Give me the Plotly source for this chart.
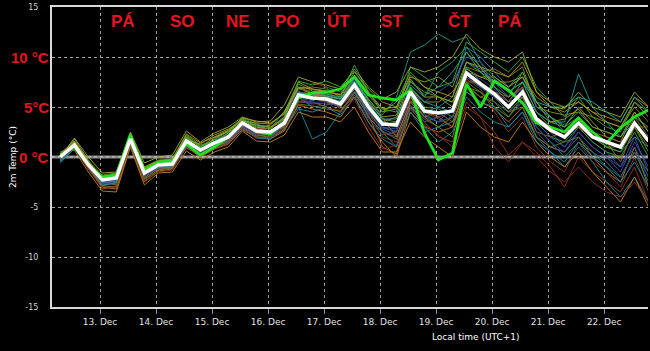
import plotly.graph_objects as go
import pandas as pd

# ---------------- data ----------------
times = [t.strftime("%Y-%m-%d %H:%M") for t in pd.date_range("2024-12-12 07:00", periods=43, freq="6h")]

mean_temp = [0.0, 1.2, -0.8, -2.3, -2.1, 1.8, -1.6, -0.8, -0.7, 1.6, 0.7, 1.4, 2.0, 3.4, 2.6, 2.5, 3.4,
             6.2, 5.9, 5.8, 5.3, 7.2, 5.0, 3.3, 3.2, 6.5, 4.6, 4.4, 4.6, 8.4, 7.3, 6.3, 5.0, 6.5, 3.8,
             2.7, 2.0, 3.4, 2.0, 1.5, 1.0, 3.4, 1.6]

control_temp = [0.2, 1.0, -0.8, -2.0, -1.8, 2.2, -1.3, -0.5, -0.4, 1.3, 0.2, 1.0, 2.0, 3.4, 2.5, 2.3, 3.5,
                5.9, 6.4, 6.5, 6.8, 8.0, 6.2, 5.9, 5.7, 6.7, 2.4, -0.3, 0.4, 7.3, 5.0, 7.6, 6.7, 5.4, 3.4,
                3.0, 2.5, 3.9, 2.5, 1.4, 2.9, 4.0, 4.7]

member_a = [-0.3, 1.3, -0.5, -2.0, -2.2, 1.6, -1.4, -0.6, -0.3, 2.0, 1.0, 1.8, 2.6, 3.8, 3.0, 2.8, 4.6, 7.0, 6.4, 6.0, 5.6, 7.8, 5.8, 4.2, 6.0, 10.5, 11.2, 12.3, 11.5, 12.0, 9.5, 8.0, 7.0, 8.5, 5.5, 4.0, 3.2, 4.5, 3.0, 2.5, 2.0, 4.0, 3.0]
member_b = [0.2, 0.9, -1.2, -3.0, -3.2, 1.2, -2.5, -1.4, -1.2, 1.0, 0.0, 0.8, 1.3, 2.8, 2.0, 1.8, 2.6, 5.2, 4.8, 4.5, 4.0, 6.0, 3.5, 1.5, 0.0, 4.5, 3.0, 2.5, 3.0, 6.5, 5.5, 4.8, 3.5, 5.0, 2.0, 1.0, 0.5, 2.0, 0.0, -1.5, -2.5, 1.0, -3.0]
member_c = [-0.5, 1.0, -0.9, -2.6, -2.4, 1.9, -1.8, -1.0, -0.9, 1.4, 0.5, 1.2, 1.8, 3.2, 2.4, 2.2, 3.0, 6.0, 5.6, 6.2, 5.8, 7.0, 4.0, 2.5, 2.0, 5.5, 4.0, 3.5, 5.0, 9.5, 8.8, 7.5, 6.0, 6.8, 4.0, 2.5, 1.0, 3.0, 1.5, 0.5, -1.0, 2.0, -1.5]
member_d = [0.0, 1.6, -0.4, -1.8, -1.6, 2.0, -1.0, -0.3, -0.2, 2.2, 1.2, 1.6, 2.4, 3.6, 3.2, 3.0, 4.0, 6.8, 7.0, 6.8, 6.0, 8.0, 6.2, 4.5, 4.8, 7.5, 6.5, 6.0, 5.5, 9.0, 8.5, 8.8, 8.0, 9.0, 5.0, 4.5, 4.2, 4.5, 4.0, 3.5, 3.0, 5.0, 3.5]
member_e = [0.3, 1.1, -1.0, -2.8, -2.6, 1.5, -2.0, -1.2, -1.0, 1.2, 0.3, 1.0, 1.6, 3.0, 2.2, 2.0, 3.2, 5.8, 7.4, 7.0, 5.0, 6.5, 4.5, 2.0, 1.5, 5.0, 3.5, 2.0, 1.5, 5.5, 4.0, 2.5, 0.2, 1.5, 0.5, -1.0, -3.0, 0.0, -1.5, -2.5, -3.5, -1.0, -4.5]
member_f = [-0.2, 1.4, -0.6, -2.2, -2.0, 2.3, -1.5, -0.7, -0.5, 1.8, 0.8, 1.5, 2.2, 3.5, 2.8, 2.6, 3.6, 6.5, 6.2, 5.5, 5.0, 7.5, 5.5, 3.8, 3.5, 7.0, 5.0, 4.8, 4.0, 8.0, 7.0, 6.0, 4.5, 6.0, 3.5, 2.0, 1.5, 3.0, 1.5, 0.5, 0.0, 2.5, 0.0]
member_g = [0.1, 1.8, -0.3, -2.5, -2.8, 1.4, -1.9, -0.9, -0.8, 1.5, 0.6, 1.9, 2.6, 3.7, 2.9, 3.2, 4.5, 7.5, 6.8, 6.5, 6.2, 8.5, 6.8, 5.5, 5.0, 8.0, 7.5, 8.0, 7.0, 10.5, 9.0, 7.0, 5.5, 7.5, 4.5, 3.5, 3.0, 5.0, 3.5, 2.0, 1.5, 4.5, 2.5]
member_h = [-0.4, 0.8, -1.1, -2.9, -2.5, 1.7, -1.7, -1.1, -1.1, 1.1, 0.2, 1.1, 1.5, 3.0, 2.1, 2.4, 3.8, 6.0, 5.0, 5.2, 5.6, 7.0, 4.8, 3.0, 2.5, 6.0, 4.5, 5.0, 6.0, 11.0, 10.0, 8.5, 7.0, 8.0, 5.0, 4.0, 2.5, 3.5, 2.5, 1.0, 0.5, 2.0, 1.0]
member_i = [0.4, 1.5, -0.7, -2.4, -1.9, 1.8, -1.2, -0.5, -0.6, 1.9, 1.0, 2.0, 2.5, 3.3, 3.2, 3.0, 3.8, 6.3, 6.0, 6.0, 5.5, 6.8, 5.2, 3.5, 4.0, 6.8, 5.5, 5.5, 6.5, 8.5, 8.0, 7.5, 7.5, 8.0, 6.0, 5.0, 4.5, 5.5, 4.5, 4.0, 3.5, 6.0, 5.0]
member_j = [-0.1, 1.2, -0.8, -2.1, -2.3, 2.1, -1.6, -0.8, -0.7, 1.7, 0.9, 1.3, 2.0, 3.5, 2.5, 2.3, 3.3, 6.3, 6.5, 7.0, 6.5, 7.3, 5.5, 3.3, 3.0, 6.2, 4.2, 3.5, 4.0, 7.5, 6.5, 5.5, 4.0, 5.5, 3.0, 1.5, 0.0, 1.5, 0.5, -1.0, -2.0, 0.5, -2.5]
member_k = [0.2, 1.0, -1.0, -3.2, -2.9, 1.3, -2.2, -1.3, -0.9, 1.3, 0.4, 1.4, 1.9, 3.1, 2.6, 2.5, 3.0, 5.5, 5.5, 5.0, 4.5, 6.2, 4.2, 1.0, 0.3, 5.5, 4.0, 4.5, 3.5, 7.0, 6.0, 6.5, 5.5, 6.0, 2.5, 2.0, 2.5, 3.0, 2.0, 1.5, -0.5, 3.0, 1.0]
member_l = [-0.6, 0.9, -0.9, -2.2, -2.0, 1.6, -1.5, -0.6, -0.4, 1.6, 0.6, 1.3, 2.3, 3.3, 2.4, 1.8, 3.5, 5.0, 1.8, 2.5, 4.5, 6.5, 4.0, 2.5, 1.0, 5.0, 3.0, 1.5, 2.5, 6.0, 4.5, 3.5, 3.0, 4.5, 2.0, 0.5, -1.0, 1.0, -0.5, -2.5, -4.0, -2.0, -4.5]
member_m = [0.0, 1.3, -0.7, -2.7, -2.2, 1.9, -1.4, -0.7, -0.6, 1.5, 0.7, 1.7, 2.1, 3.2, 2.7, 2.7, 4.2, 6.6, 6.0, 5.5, 5.2, 7.8, 5.0, 3.0, 2.8, 6.5, 5.5, 6.5, 7.5, 10.0, 9.5, 7.0, 5.5, 7.0, 3.5, 2.0, 1.0, 2.5, 1.0, 0.0, -1.0, 1.0, -2.0]
member_n = [0.1, 1.1, -0.8, -2.0, -1.8, 2.0, -1.1, -0.4, -0.3, 2.1, 1.1, 1.5, 2.4, 3.9, 3.3, 2.9, 3.9, 7.3, 6.6, 6.3, 6.0, 9.2, 6.5, 4.8, 4.5, 9.0, 8.0, 7.0, 7.5, 11.5, 10.5, 9.5, 8.5, 10.0, 7.0, 5.5, 4.0, 6.0, 4.0, 3.0, 2.5, 5.5, 4.5]
member_o = [-0.3, 1.5, -0.5, -2.3, -2.4, 1.5, -1.7, -1.0, -1.0, 1.4, 0.4, 1.2, 1.7, 3.3, 2.6, 2.6, 3.1, 6.0, 5.8, 5.6, 5.0, 6.8, 4.6, 3.2, 3.5, 6.0, 4.0, 3.0, 2.0, 7.0, 6.5, 5.0, 4.0, 6.0, 3.5, 2.5, 2.0, 3.5, 2.0, 1.0, 1.0, 4.0, 2.0]
member_p = [0.2, 1.2, -0.6, -2.5, -2.1, 2.2, -1.3, -0.6, -0.8, 1.8, 0.8, 1.6, 2.2, 3.5, 2.7, 2.5, 3.6, 6.3, 5.7, 5.9, 5.5, 7.6, 5.2, 3.5, 3.2, 7.0, 5.5, 5.0, 4.5, 9.0, 7.5, 6.5, 5.0, 6.5, 4.5, 3.5, 3.5, 8.3, 5.0, 3.5, 2.0, 3.5, 1.5]
member_q = [0.0, 1.0, -1.1, -2.6, -2.7, 1.6, -1.8, -1.2, -0.8, 1.3, 0.5, 1.0, 1.8, 3.1, 2.3, 2.2, 3.3, 6.2, 6.8, 6.0, 4.8, 6.0, 3.8, 2.2, 2.5, 5.8, 4.5, 3.8, 3.0, 7.8, 6.8, 4.5, 2.5, 4.0, 1.0, -0.5, -1.5, 1.5, -0.5, -1.5, -3.0, 0.0, -3.5]
member_r = [0.3, 1.4, -0.6, -2.2, -2.0, 1.7, -1.5, -0.7, -0.5, 1.7, 1.3, 2.2, 2.8, 3.6, 3.4, 3.3, 4.4, 6.9, 6.3, 6.1, 5.8, 7.4, 5.8, 4.0, 4.2, 7.8, 6.0, 6.0, 5.5, 8.8, 8.0, 8.0, 7.0, 8.0, 5.5, 3.5, 3.8, 4.8, 3.0, 2.5, 2.0, 4.5, 2.5]
member_s = [-0.2, 1.3, -0.7, -2.4, -2.3, 1.9, -1.6, -0.9, -0.6, 1.7, 0.7, 1.4, 2.0, 3.4, 2.5, 2.4, 3.4, 6.4, 6.1, 6.3, 5.9, 7.5, 5.3, 3.6, 3.0, 7.2, 6.0, 8.5, 9.5, 11.0, 9.0, 7.8, 6.5, 7.5, 4.5, 3.0, 2.5, 4.0, 2.5, 1.5, 1.0, 3.5, 1.5]
member_t = [0.1, 1.1, -0.9, -2.6, -2.5, 1.5, -1.9, -1.0, -0.8, 1.2, 0.3, 1.1, 1.6, 3.1, 2.2, 2.1, 2.9, 5.6, 5.3, 5.4, 5.1, 6.6, 4.4, 2.8, 2.2, 5.2, 3.5, 4.0, 4.5, 8.0, 7.0, 6.0, 4.5, 5.5, 2.5, 1.0, 0.5, 2.5, 1.0, 0.0, -1.5, 1.5, -1.0]
member_u = [0.5, 0.7, -1.5, -3.4, -3.5, 1.0, -2.8, -1.6, -1.5, 0.6, -0.3, 0.5, 1.0, 2.6, 1.6, 1.5, 2.2, 4.5, 4.0, 4.0, 3.5, 5.0, 2.5, 0.5, 0.5, 3.5, 2.0, 1.0, 0.0, 4.5, 3.0, 2.0, 1.5, 3.5, 1.5, 0.0, -1.0, 0.5, -1.5, -3.0, -4.5, -2.0, -5.0]
member_v = [-0.1, 1.9, 0.0, -1.6, -1.5, 2.5, -0.6, 0.0, 0.2, 2.6, 1.5, 2.4, 3.0, 4.0, 3.5, 3.6, 5.2, 8.0, 7.5, 7.2, 6.8, 8.8, 7.0, 5.8, 6.5, 9.0, 8.5, 9.0, 10.0, 12.3, 10.8, 10.0, 9.5, 10.5, 6.5, 5.0, 4.8, 6.5, 5.0, 4.5, 4.0, 6.5, 5.0]
member_w = [-0.4, 1.0, -1.0, -2.8, -2.6, 1.3, -2.1, -1.1, -0.9, 1.0, 0.1, 0.9, 1.4, 2.9, 1.9, 1.8, 2.8, 4.8, 4.5, 5.0, 4.2, 6.0, 3.5, 1.8, 1.0, 4.5, 2.5, 3.0, 3.5, 6.5, 5.5, 5.0, 3.0, 4.5, 1.5, 0.5, -0.5, 1.5, 0.0, -1.0, -2.5, -0.5, -3.0]
member_x = [0.2, 1.5, -0.4, -2.1, -1.9, 2.4, -1.2, -0.5, -0.4, 2.0, 1.0, 1.7, 2.6, 3.8, 3.1, 2.8, 4.0, 7.6, 7.2, 7.6, 7.0, 8.6, 6.5, 4.5, 5.5, 8.5, 7.0, 6.0, 5.0, 9.5, 8.5, 7.0, 6.0, 8.5, 5.5, 4.0, 3.0, 4.0, 2.0, 1.0, 0.5, 3.0, 0.5]
member_y = [0.0, 1.2, -0.9, -2.9, -3.0, 1.1, -2.3, -1.3, -1.1, 0.9, 0.2, 1.0, 1.5, 2.7, 2.0, 2.0, 2.7, 5.3, 5.1, 4.8, 4.6, 6.4, 4.6, 2.6, 1.8, 5.0, 3.8, 3.0, 4.0, 7.2, 6.0, 5.5, 4.5, 5.0, 2.0, 1.0, 1.5, 2.0, 0.5, -0.5, -2.0, 0.5, -1.5]
member_z = [0.3, 1.2, -0.6, -2.4, -2.2, 1.8, -1.6, -0.9, -0.7, 1.5, 0.6, 1.5, 2.2, 3.3, 2.8, 2.9, 3.7, 6.1, 6.2, 6.4, 6.3, 7.1, 5.4, 3.9, 2.0, 5.6, 4.6, 4.0, 3.0, 7.5, 7.5, 6.5, 6.0, 7.0, 4.0, 3.0, 2.5, 3.0, 2.5, 2.0, 1.5, 3.0, 3.0]
member_aa = [-0.2, 1.3, -0.8, -2.5, -2.4, 1.9, -1.5, -0.8, -0.6, 1.7, 0.8, 1.5, 2.1, 3.6, 2.7, 2.4, 3.5, 6.4, 6.2, 6.1, 5.8, 7.9, 5.6, 3.8, 3.8, 7.6, 6.2, 7.0, 8.5, 10.5, 8.5, 7.5, 6.5, 7.5, 5.5, 5.0, 5.0, 6.0, 5.5, 4.5, 3.5, 6.0, 4.5]
member_ab = [0.1, 1.0, -1.0, -2.5, -2.3, 1.6, -1.7, -0.9, -0.7, 1.4, 0.4, 1.2, 1.8, 3.2, 2.4, 2.3, 3.2, 5.9, 5.4, 5.6, 5.3, 6.9, 4.6, 2.9, 2.6, 6.2, 4.3, 3.5, 4.0, 8.6, 7.8, 6.8, 5.0, 6.2, 3.0, 1.5, 0.5, 2.0, 0.5, -0.5, -2.0, 0.5, -2.0]
member_ac = [0.2, 1.6, -0.5, -2.0, -1.7, 2.1, -1.0, -0.4, -0.2, 2.3, 1.4, 2.0, 2.7, 3.9, 3.6, 3.4, 4.3, 7.0, 6.8, 6.6, 6.2, 8.2, 6.4, 4.8, 5.0, 8.2, 7.0, 6.5, 6.0, 9.5, 9.0, 8.5, 8.0, 9.5, 6.5, 5.5, 5.0, 5.5, 4.5, 3.5, 3.0, 5.5, 4.0]
member_ad = [-0.2, 0.9, -1.2, -3.1, -3.0, 1.4, -2.4, -1.5, -1.3, 1.0, 0.1, 0.9, 1.4, 2.9, 2.0, 1.9, 2.9, 5.5, 6.0, 5.5, 4.5, 5.8, 3.0, 0.8, 1.2, 4.8, 3.2, 2.2, 1.0, 5.0, 4.0, 1.0, -0.5, 1.5, 0.0, -1.5, -2.5, -1.0, -2.5, -3.5, -4.0, -2.5, -4.5]

members = [member_a, member_b, member_c, member_d, member_e, member_f, member_g, member_h, member_i, member_j,
           member_k, member_l, member_m, member_n, member_o, member_p, member_q, member_r, member_s, member_t,
           member_u, member_v, member_w, member_x, member_y, member_z, member_aa, member_ab, member_ac, member_ad]
member_colors = ["#1f9a8a", "#c8781a", "#2f5fb8", "#8c8c14", "#a0321e", "#2faa3c", "#8ca82a", "#3c7cb8",
                 "#b0901a", "#1e8c5a", "#b0641e", "#178c9c", "#3456a8", "#38b040", "#7c8c1e", "#20a0a0",
                 "#8c3c28", "#9aa024", "#2c9c6c", "#5050b0", "#c88420", "#a0ac2c", "#1c8cb0", "#48b830",
                 "#6c7c18", "#a86a28", "#24b0a0", "#2848a0", "#b49a24", "#943020"]

day_ticks = ["2024-12-13", "2024-12-14", "2024-12-15", "2024-12-16", "2024-12-17",
             "2024-12-18", "2024-12-19", "2024-12-20", "2024-12-21", "2024-12-22"]
day_tick_text = ["13. Dec", "14. Dec", "15. Dec", "16. Dec", "17. Dec",
                 "18. Dec", "19. Dec", "20. Dec", "21. Dec", "22. Dec"]

weekday_labels = ["PÁ", "SO", "NE", "PO", "ÚT", "ST", "ČT", "PÁ"]
weekday_pos = ["2024-12-13 10:00", "2024-12-14 11:30", "2024-12-15 11:00", "2024-12-16 08:30",
               "2024-12-17 06:00", "2024-12-18 05:00", "2024-12-19 10:00", "2024-12-20 07:30"]

y_tick_vals = [15, 10, 5, 0, -5, -10, -15]
y_tick_text = ["15", "", "", "", "-5", "-10", "-15"]
red_y_vals = [10, 5, 0]
red_y_text = ["10 °C", "5°C", "0 °C"]

# ---------------- figure ----------------
fig = go.Figure()

for vals, col in zip(members, member_colors):
    fig.add_trace(go.Scatter(x=times, y=vals, mode="lines",
                             line=dict(color=col, width=1), opacity=0.9,
                             showlegend=False, hoverinfo="skip"))

fig.add_trace(go.Scatter(x=times, y=control_temp, mode="lines",
                         line=dict(color="#22e022", width=2.8), showlegend=False))
fig.add_trace(go.Scatter(x=times, y=mean_temp, mode="lines",
                         line=dict(color="#ffffff", width=3.5), showlegend=False))

# zero line (gray solid with dashed white overlay)
fig.add_shape(type="line", xref="paper", x0=0, x1=1, yref="y", y0=0, y1=0,
              line=dict(color="#8a8a8a", width=3), layer="below")
fig.add_shape(type="line", xref="paper", x0=0, x1=1, yref="y", y0=0, y1=0,
              line=dict(color="#dddddd", width=1, dash="3px,3px"), layer="below")

for lab, pos in zip(weekday_labels, weekday_pos):
    fig.add_annotation(x=pos, y=1.0, xref="x", yref="paper", yanchor="top", yshift=-3,
                       text="<b>" + lab + "</b>", showarrow=False,
                       font=dict(family="Liberation Sans, Arial", size=17, color="#e8141e"))

for v, t in zip(red_y_vals, red_y_text):
    fig.add_annotation(x=0, xref="paper", xanchor="right", xshift=-1, y=v, yref="y",
                       text="<b>" + t + "</b>", showarrow=False,
                       font=dict(family="Liberation Sans, Arial", size=15, color="#e8141e"))

fig.add_annotation(x="2024-12-19 17:00", xref="x", y=-0.075, yref="paper", yanchor="top",
                   text="Local time (UTC+1)", showarrow=False,
                   font=dict(family="DejaVu Sans", size=9, color="#ffffff"))

fig.add_annotation(x=-0.0654, xref="paper", xanchor="center", y=0.5, yref="paper", yanchor="middle",
                   textangle=-90, text="2m Temp (°C)", showarrow=False,
                   font=dict(family="DejaVu Sans", size=9, color="#ffffff"))

fig.update_layout(
    width=650, height=351,
    margin=dict(l=52, r=2, t=7, b=44),
    paper_bgcolor="#000000", plot_bgcolor="#000000",
    font=dict(family="DejaVu Sans", size=9, color="#e0e0e0"),
    showlegend=False,
)

fig.update_xaxes(
    range=["2024-12-12 03:26", "2024-12-22 18:46"],
    tickvals=day_ticks, ticktext=day_tick_text,
    showgrid=True, gridcolor="#a0a0a0", griddash="3px,3px", gridwidth=1,
    showline=True, linecolor="#d8d8d8", linewidth=2, mirror=True,
    ticks="outside", ticklen=5, tickcolor="#8090b0",
    tickfont=dict(family="DejaVu Sans", size=9, color="#e0e0e0"),
    zeroline=False,
)

fig.update_yaxes(
    range=[-15, 15],
    tickvals=y_tick_vals, ticktext=y_tick_text,
    showgrid=True, gridcolor="#a0a0a0", griddash="3px,3px", gridwidth=1,
    showline=True, linecolor="#d8d8d8", linewidth=2,
    ticks="", zeroline=False, ticklabelstandoff=10,
    tickfont=dict(family="DejaVu Sans", size=8, color="#d0d0d0"),
)

fig.write_html("out.html")
